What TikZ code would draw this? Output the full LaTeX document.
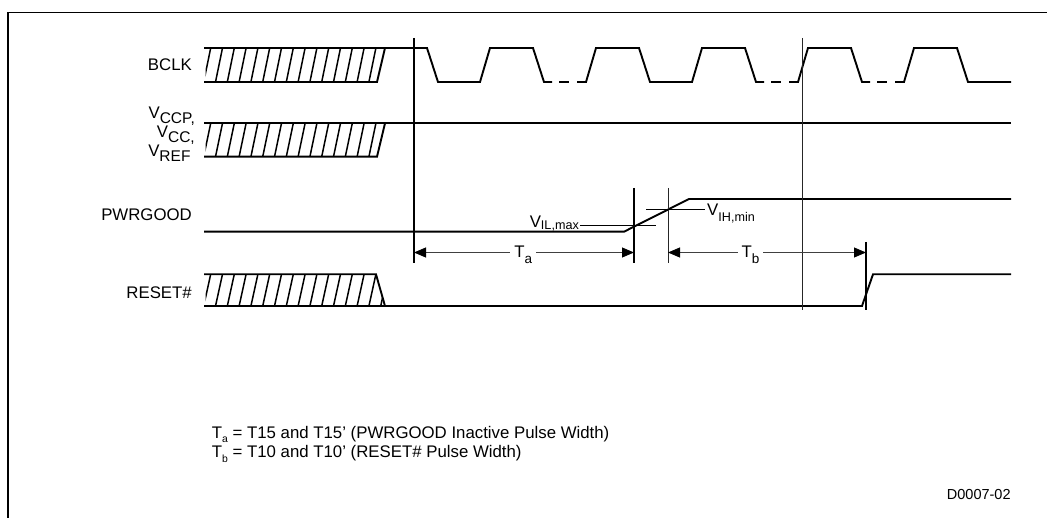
\documentclass[tikz,border=0pt]{standalone}
\usepackage{fontspec}
\setmainfont{Liberation Sans}
\usetikzlibrary{arrows.meta}
\newcommand{\lowsub}[1]{\smash{\raisebox{-5.5pt}{\fontsize{15.5}{16}\selectfont #1}}}
\begin{document}
\begin{tikzpicture}[x=1pt,y=-1pt,
  font=\fontsize{16.8}{19}\selectfont,
  sig/.style={line width=1.9pt, line join=miter},
  hat/.style={line width=1.5pt},
  vthick/.style={line width=1.4pt},
  vthin/.style={line width=0.8pt, black!85},
  thr/.style={line width=1.3pt},
  >={Triangle[length=12pt,width=10pt,color=black]},
  dim/.style={line width=0.9pt, draw=black!75, <->},
  lbl/.style={inner sep=0pt, anchor=base east},
  dimlbl/.style={anchor=base, fill=white, inner xsep=4pt, inner ysep=1pt},
  sublbl/.style={inner sep=0pt}
]
\useasboundingbox (0,0) rectangle (1047,518);
% frame
\draw[line width=1.5pt] (8,518) -- (8,12.7) -- (1047,12.7);

% signal names
\node[lbl] (bclk) at (192,70.7) {BCLK};
\node[inner sep=0pt, anchor=north east, align=right, font=\fontsize{16.8}{19}\selectfont] (vlbl) at (195,106.5)
  {V\lowsub{CCP,}\\V\lowsub{CC,}\\V\lowsub{REF\phantom{,}}};
\node[lbl] (pwr)  at (192,221) {PWRGOOD};
\node[lbl] (rst)  at (192,299) {RESET\#};

% BCLK hatch
\begin{scope}
  \clip (205.5,48) -- (385,48) -- (377,82) -- (205.5,82) -- cycle;
  \foreach \k in {0,...,16} \draw[hat] ({203.5+11.8*\k},83) -- ({210.9+11.8*\k},47);
\end{scope}
\draw[sig] (204,82) -- (377,82) -- (385,48);
% BCLK clock
\draw[sig] (204,48) -- (427,48) -- (438,82) -- (480,82) -- (490,48) -- (533,48) -- (544,82) -- (552,82);
\draw[sig] (559,82) -- (569,82);
\draw[sig] (577,82) -- (586,82) -- (596,48) -- (639,48) -- (650,82) -- (692,82) -- (702,48) -- (745,48) -- (756,82) -- (764,82);
\draw[sig] (771,82) -- (781,82);
\draw[sig] (789,82) -- (798,82) -- (808,48) -- (851,48) -- (862,82) -- (870,82);
\draw[sig] (877,82) -- (887,82);
\draw[sig] (895,82) -- (904,82) -- (914,48) -- (957,48) -- (968,82) -- (1011,82);

% VCC hatch
\begin{scope}
  \clip (205.5,123.3) -- (385,123.3) -- (377,156.7) -- (205.5,156.7) -- cycle;
  \foreach \k in {0,...,16} \draw[hat] ({203.5+11.8*\k},157.7) -- ({210.9+11.8*\k},122.3);
\end{scope}
\draw[sig] (204,156.7) -- (377,156.7) -- (385,123.3);
\draw[sig] (204,123.3) -- (1011,123.3);

% PWRGOOD
\draw[sig] (204,231.7) -- (624,231.7) -- (689,199) -- (1011,199);

% RESET# hatch
\begin{scope}
  \clip (205.5,274.3) -- (376,274.3) -- (385,306) -- (205.5,306) -- cycle;
  \foreach \k in {0,...,16} \draw[hat] ({203.5+11.8*\k},307) -- ({210.9+11.8*\k},273.3);
\end{scope}
\draw[sig] (204,274.3) -- (376,274.3) -- (385,306);
\draw[sig] (204,306) -- (862,306) -- (873,274.3) -- (1011,274.3);

% reference lines
\draw[vthick] (414,38) -- (414,263);
\draw[vthin] (802,38) -- (802,310);
\draw[vthick] (634,188) -- (634,263);
\draw[vthin] (668,188) -- (668,263);
\draw[vthick] (866,242) -- (866,310);

% thresholds
\draw[thr] (580,225.7) -- (656,225.7);
\draw[thr] (646,209.3) -- (705,209.3);
\node[sublbl, anchor=base east] (vil) at (579,228) {V\raisebox{-1.5pt}{\fontsize{12.6}{13}\selectfont IL,max}};
\node[sublbl, anchor=base west] (vih) at (707,216) {V\raisebox{-5.5pt}{\fontsize{12.6}{13}\selectfont IH,min}};

% dimensions
\coordinate (ta1) at (414,252.5);
\coordinate (ta2) at (634,252.5);
\coordinate (tb1) at (668,252.5);
\coordinate (tb2) at (866,252.5);
\draw[dim] (ta1) -- (ta2);
\draw[dim] (tb1) -- (tb2);
\node[dimlbl] (Ta) at (523.3,257.3) {T\raisebox{-6pt}{\fontsize{13.5}{14}\selectfont a}};
\node[dimlbl] (Tb) at (750.5,257.3) {T\raisebox{-6pt}{\fontsize{13.5}{14}\selectfont b}};

% notes
\node[sublbl, anchor=base west] (n1) at (211.7,438.3) {T\raisebox{-4.4pt}{\fontsize{10.4}{11}\selectfont a} = T15 and T15’ (PWRGOOD Inactive Pulse Width)};
\node[sublbl, anchor=base west] (n2) at (211.7,457.7) {T\raisebox{-4.4pt}{\fontsize{10.4}{11}\selectfont b} = T10 and T10’ (RESET\# Pulse Width)};
\node[sublbl, anchor=base west, font=\fontsize{14.5}{16}\selectfont] (fig) at (946.7,499.7) {D0007-02};
\end{tikzpicture}
\end{document}
